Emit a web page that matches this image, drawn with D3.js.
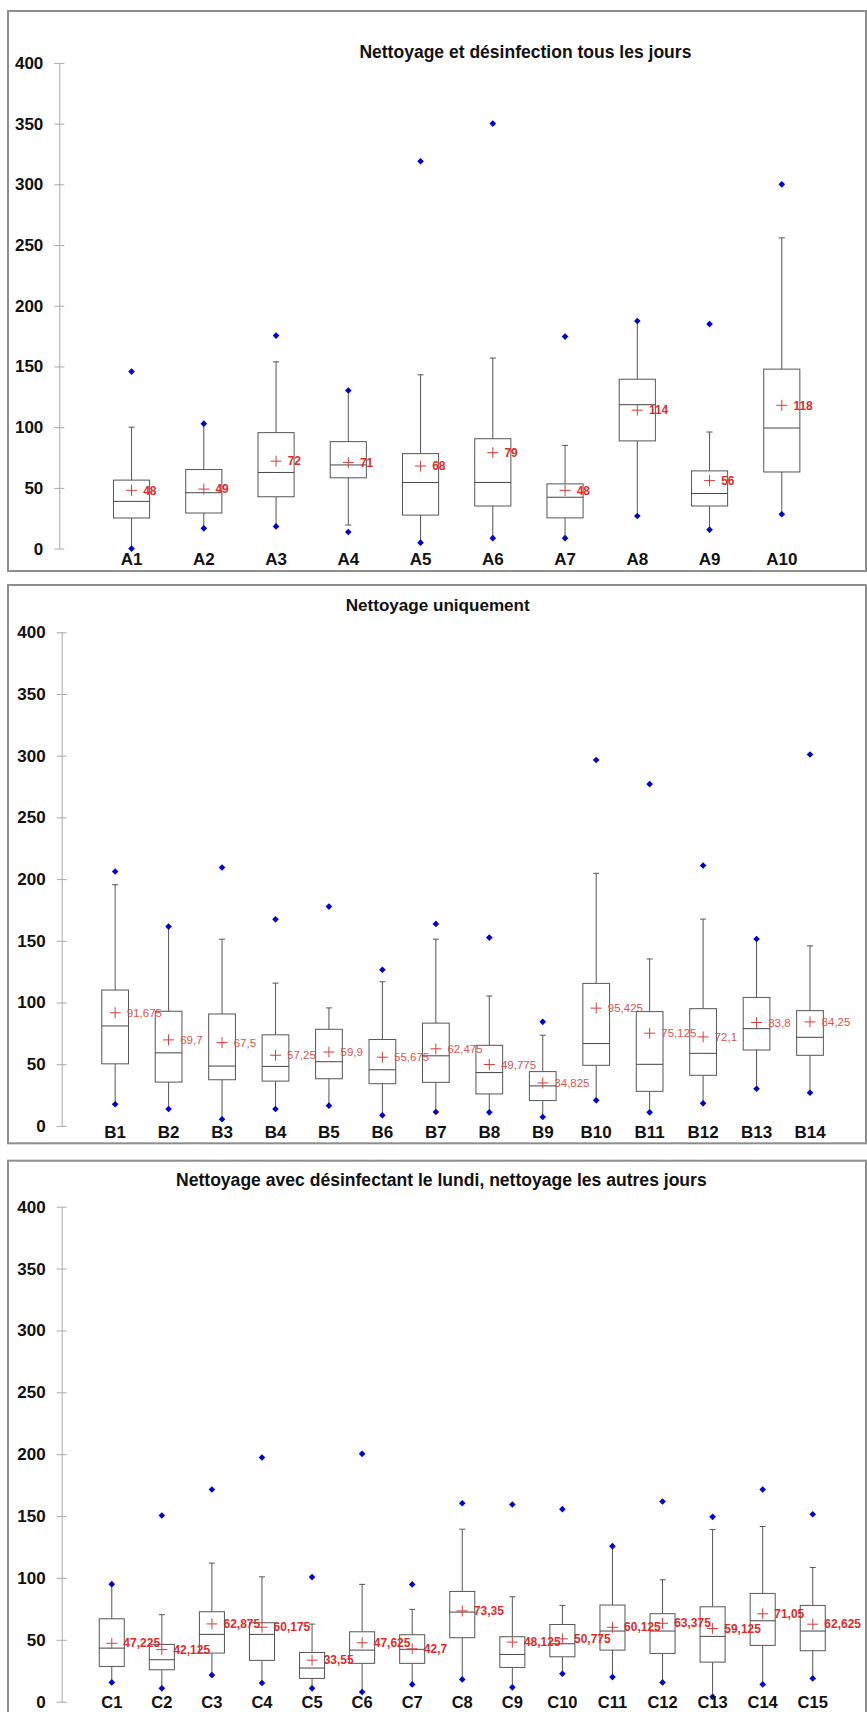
<!DOCTYPE html>
<html><head><meta charset="utf-8">
<script src="https://cdn.jsdelivr.net/npm/d3@7"></script>
<style>html,body{margin:0;padding:0;background:#fff;overflow:hidden}</style>
</head><body>
<svg id="c" width="867" height="1712" xmlns="http://www.w3.org/2000/svg"></svg>
<script>
// ---------- DATA ----------
const yTicks = [0, 50, 100, 150, 200, 250, 300, 350, 400];

const titleA = "Nettoyage et désinfection tous les jours";
const catsA  = ["A1","A2","A3","A4","A5","A6","A7","A8","A9","A10"];
const minA   = [0, 16.7, 18.3, 13.7, 4.9, 8.6, 8.6, 26.8, 15.6, 28.3];
const wLoA   = [0, 16.7, 18.3, 19.4, 4.9, 8.6, 8.6, 26.8, 15.6, 28.3];
const q1A    = [25.2, 29.3, 42.7, 58.3, 27.6, 35.1, 25.3, 88.7, 35.1, 63.1];
const medA   = [38.9, 46.0, 62.7, 68.9, 54.4, 54.5, 42.3, 118.5, 45.4, 99.3];
const q3A    = [56.4, 65.1, 95.5, 88.1, 78.2, 90.5, 53.3, 139.5, 64.0, 147.8];
const wHiA   = [100, 102.9, 153.8, 130.2, 143.1, 156.9, 85.0, 187.4, 96.0, 255.9];
const maxA   = [145.8, 102.9, 175.4, 130.2, 319, 350, 174.6, 187.4, 184.9, 300];
const meanA  = [48, 49, 72, 71, 68, 79, 48, 114, 56, 118];

const titleB = "Nettoyage uniquement";
const catsB  = ["B1","B2","B3","B4","B5","B6","B7","B8","B9","B10","B11","B12","B13","B14"];
const minB   = [17.5, 13.7, 5.4, 13.7, 16.4, 8.6, 11.3, 11.0, 7.2, 20.7, 11.0, 18.3, 30.1, 26.9];
const wLoB   = [17.5, 13.7, 5.4, 13.7, 16.4, 8.6, 11.3, 11.0, 7.2, 20.7, 11.0, 18.3, 30.1, 26.9];
const q1B    = [50.3, 35.5, 37.4, 36.3, 38.2, 34.2, 35.3, 25.9, 20.5, 49.1, 28.0, 41.0, 61.5, 57.2];
const medB   = [81.0, 59.2, 48.5, 48.2, 52.0, 45.5, 56.8, 43.2, 32.4, 66.7, 49.9, 58.8, 78.8, 71.8];
const q3B    = [110.1, 92.9, 90.7, 73.8, 78.3, 70.0, 83.3, 65.3, 44.0, 115.5, 92.6, 95.0, 104.1, 93.4];
const wHiB   = [195.4, 161.5, 151.3, 115.7, 95.6, 116.8, 151.3, 105.3, 73.5, 204.7, 135.3, 167.6, 151.5, 145.9];
const maxB   = [206.2, 161.5, 209.4, 167.4, 177.7, 126.5, 163.7, 152.6, 84.3, 296.5, 277, 211, 151.5, 301];
const meanB  = [91.675, 69.7, 67.5, 57.25, 59.9, 55.675, 62.475, 49.775, 34.825, 95.425, 75.125, 72.1, 83.8, 84.25];

const titleC = "Nettoyage avec désinfectant le lundi, nettoyage les autres jours";
const catsC  = ["C1","C2","C3","C4","C5","C6","C7","C8","C9","C10","C11","C12","C13","C14","C15"];
const minC   = [15.6, 10.8, 21.5, 15.1, 10.8, 7.8, 14.0, 18.0, 11.6, 22.6, 19.9, 15.6, 4.0, 14.0, 18.8];
const wLoC   = [15.6, 10.8, 21.5, 15.1, 10.8, 7.8, 14.0, 18.0, 11.6, 22.6, 19.9, 15.6, 4.0, 14.0, 18.8];
const q1C    = [28.5, 25.8, 39.3, 33.4, 18.8, 31.0, 31.0, 51.7, 27.7, 36.3, 41.7, 39.0, 32.0, 45.5, 41.2];
const medC   = [43.3, 33.9, 54.4, 54.4, 27.2, 41.7, 42.3, 72.4, 38.2, 46.8, 57.1, 57.1, 52.8, 65.4, 57.1];
const q3C    = [67.0, 46.3, 72.7, 63.8, 39.8, 56.5, 54.1, 89.1, 52.5, 62.4, 78.1, 71.1, 76.7, 87.5, 77.8];
const wHiC   = [95.0, 70.3, 112.0, 100.9, 62.7, 94.8, 74.6, 139.4, 84.8, 77.8, 125.7, 98.5, 139.2, 141.6, 108.5];
const maxC   = [95.0, 150.5, 171.5, 197.3, 100.7, 200.3, 94.8, 160.4, 159.4, 155.6, 125.7, 161.8, 149.4, 171.5, 151.5];
const meanC  = [47.225, 42.125, 62.875, 60.175, 33.55, 47.625, 42.7, 73.35, 48.125, 50.775, 60.125, 63.375, 59.125, 71.05, 62.625];

// ---------- LAYOUT ----------
const svg = d3.select("#c");
const FONT = "'Liberation Sans', Arial, Helvetica, sans-serif";

const panels = [
  { title: titleA, cats: catsA, min: minA, wlo: wLoA, q1: q1A, med: medA, q3: q3A, whi: wHiA, max: maxA, mean: meanA,
    box: [8, 11, 858, 560], axisX: 59.3, y0: 548.6, y400: 62.9, step: 72.25,
    titleX: 359.4, titleY: 58, titleLen: 332, titleSize: 18, labelY: 565, labelSize: 17,
    meanFont: "bold 12px " + FONT, meanColor: "#e02a2a" },
  { title: titleB, cats: catsB, min: minB, wlo: wLoB, q1: q1B, med: medB, q3: q3B, whi: wHiB, max: maxB, mean: meanB,
    box: [8, 585, 858, 558.3], axisX: 61.7, y0: 1125.9, y400: 632.3, step: 53.45,
    titleX: 345.7, titleY: 610.7, titleLen: 184, titleSize: 17, labelY: 1138, labelSize: 17,
    meanFont: "11.5px " + FONT, meanColor: "#d9534f" },
  { title: titleC, cats: catsC, min: minC, wlo: wLoC, q1: q1C, med: medC, q3: q3C, whi: wHiC, max: maxC, mean: meanC,
    box: [8, 1160.7, 858, 600], axisX: 61.7, y0: 1701.7, y400: 1206.7, step: 50.07,
    titleX: 176, titleY: 1185.5, titleLen: 530.7, titleSize: 17.5, labelY: 1707.5, labelSize: 16.5,
    meanFont: "bold 12px " + FONT, meanColor: "#e02a2a" }
];

const fmt = v => String(v).replace(".", ",");

panels.forEach(p => {
  const g = svg.append("g");
  const n = p.cats.length;
  const y = d3.scaleLinear().domain([0, 400]).range([p.y0, p.y400]);
  const x = d3.scalePoint().domain(p.cats)
      .range([p.axisX, p.axisX + (n + 1) * p.step]).padding(1);
  const bw = p.step / 2;

  // border
  g.append("rect").attr("x", p.box[0]).attr("y", p.box[1])
    .attr("width", p.box[2]).attr("height", p.box[3])
    .attr("fill", "none").attr("stroke", "#8e8e8e").attr("stroke-width", 2);

  // title
  g.append("text").attr("x", p.titleX).attr("y", p.titleY)
    .attr("textLength", p.titleLen).attr("lengthAdjust", "spacingAndGlyphs")
    .style("font", "bold " + p.titleSize + "px " + FONT).attr("fill", "#111")
    .text(p.title);

  // y axis
  const ax = g.append("g").attr("transform", `translate(${p.axisX},0)`)
    .call(d3.axisLeft(y).tickValues(yTicks).tickSizeInner(5).tickSizeOuter(0).tickPadding(11));
  ax.select(".domain").attr("stroke", "#a8a8a8");
  ax.selectAll(".tick line").attr("stroke", "#a8a8a8").attr("x1", 5);
  ax.selectAll(".tick text").style("font", "bold 17px " + FONT).attr("fill", "#111");

  const items = d3.range(n).map(i => ({
    c: p.cats[i], min: p.min[i], wlo: p.wlo[i], q1: p.q1[i], med: p.med[i],
    q3: p.q3[i], whi: p.whi[i], max: p.max[i], mean: p.mean[i]
  }));

  const it = g.append("g").selectAll("g.item").data(items).enter().append("g").attr("class", "item");

  // whiskers
  it.append("line").attr("x1", d => x(d.c)).attr("x2", d => x(d.c))
    .attr("y1", d => y(d.q3)).attr("y2", d => y(d.whi)).attr("stroke", "#555");
  it.append("line").attr("x1", d => x(d.c)).attr("x2", d => x(d.c))
    .attr("y1", d => y(d.q1)).attr("y2", d => y(d.wlo)).attr("stroke", "#555");
  // caps where whisker end differs from extreme
  it.filter(d => d.whi !== d.max).append("line")
    .attr("x1", d => x(d.c) - 3).attr("x2", d => x(d.c) + 3)
    .attr("y1", d => y(d.whi)).attr("y2", d => y(d.whi)).attr("stroke", "#555");
  it.filter(d => d.wlo !== d.min).append("line")
    .attr("x1", d => x(d.c) - 3).attr("x2", d => x(d.c) + 3)
    .attr("y1", d => y(d.wlo)).attr("y2", d => y(d.wlo)).attr("stroke", "#555");

  // box
  it.append("rect").attr("x", d => x(d.c) - bw / 2).attr("width", bw)
    .attr("y", d => y(d.q3)).attr("height", d => y(d.q1) - y(d.q3))
    .attr("fill", "#fff").attr("stroke", "#555");
  it.append("line").attr("x1", d => x(d.c) - bw / 2).attr("x2", d => x(d.c) + bw / 2)
    .attr("y1", d => y(d.med)).attr("y2", d => y(d.med)).attr("stroke", "#444");

  // min / max diamonds
  const dia = d3.symbol().type(d3.symbolSquare).size(22);
  ["min", "max"].forEach(k => {
    it.append("path").attr("d", dia)
      .attr("transform", d => `translate(${x(d.c)},${y(d[k])}) rotate(45)`)
      .attr("fill", "#0000d0");
  });

  // mean crosses and labels, on top of all boxes
  const ml = g.append("g").selectAll("g.mean").data(items).enter().append("g").attr("class", "mean");
  ml.append("line").attr("x1", d => x(d.c) - 5.5).attr("x2", d => x(d.c) + 5.5)
    .attr("y1", d => y(d.mean)).attr("y2", d => y(d.mean)).attr("stroke", "#d93a3a");
  ml.append("line").attr("x1", d => x(d.c)).attr("x2", d => x(d.c))
    .attr("y1", d => y(d.mean) - 5.5).attr("y2", d => y(d.mean) + 5.5).attr("stroke", "#d93a3a");
  ml.append("text").attr("x", d => x(d.c) + 11.6).attr("y", d => y(d.mean))
    .attr("dy", "0.35em").style("font", p.meanFont).attr("fill", p.meanColor)
    .text(d => fmt(d.mean));

  // category labels
  g.selectAll("text.cat").data(p.cats).enter().append("text").attr("class", "cat")
    .attr("x", d => x(d)).attr("y", p.labelY).attr("text-anchor", "middle")
    .style("font", "bold " + p.labelSize + "px " + FONT).attr("fill", "#111").text(d => d);
});
</script>
</body></html>
